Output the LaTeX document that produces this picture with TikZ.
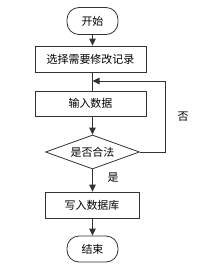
\documentclass[tikz,border=0pt]{standalone}
\usepackage{fontspec}
\setmainfont{Noto Sans CJK SC}
\usetikzlibrary{shapes.geometric,arrows.meta}
\begin{document}
\begin{tikzpicture}[x=1bp,y=-1bp,
  line width=0.8bp,
  every node/.style={font=\fontsize{11}{12}\selectfont, text=black, inner sep=0pt},
  proc/.style={draw=black!80, rectangle, minimum height=26bp},
  term/.style={draw=black!80, rectangle, rounded corners=12bp, minimum width=51bp, minimum height=27bp},
  dec/.style={draw=black!80, diamond, aspect=2.76, minimum width=94bp, minimum height=34bp},
  conn/.style={draw=black!80, -{Triangle[length=7bp,width=6.5bp]}},
  plain/.style={draw=black!80}]
\useasboundingbox (0,0) rectangle (204,267);
\node[term] (start) at (92.5,21) {开始};
\node[proc, minimum width=111bp] (b1) at (90.5,59) {选择需要修改记录};
\node[proc, minimum width=111bp, minimum height=25bp] (b2) at (90.5,103.5) {输入数据};
\node[dec] (dia) at (92.5,152) {是否合法};
\node[proc, minimum width=94bp] (b3) at (92,205) {写入数据库};
\node[term, minimum height=26bp] (end) at (92.5,249) {结束};
\coordinate (fb) at (165,81);
\node (no) at (183,117) {否};
\node (yes) at (113,178) {是};
\draw[conn] (start.south) -- (start.south |- b1.north);
\draw[plain] (start.south |- b1.south) -- (start.south |- b2.north);
\draw[conn] (start.south |- b2.south) -- (dia.north);
\draw[conn] (dia.south) -- (dia.south |- b3.north);
\draw[conn] (dia.south |- b3.south) -- (end.north);
\draw[conn] (dia.east) -| (fb) -- (fb -| dia.north);
\end{tikzpicture}
\end{document}
